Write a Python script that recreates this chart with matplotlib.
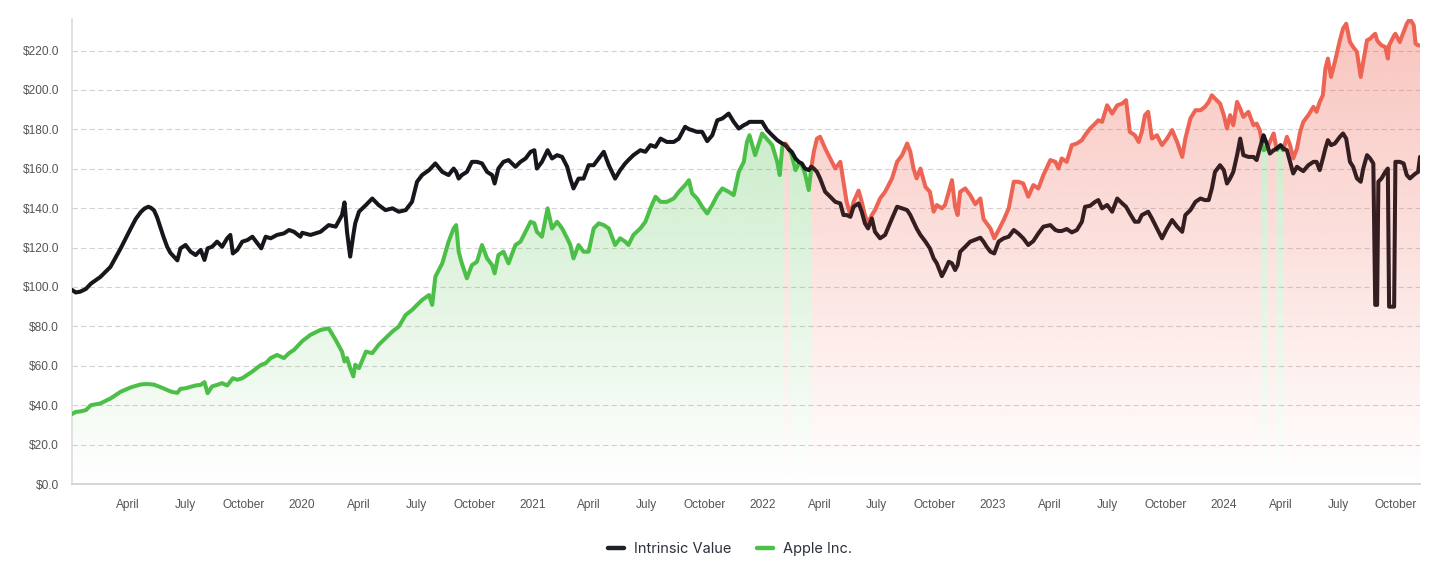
import numpy as np
import pandas as pd
import matplotlib
matplotlib.use('Agg')
import matplotlib.pyplot as plt
import matplotlib.dates as mdates
from matplotlib.path import Path
from matplotlib.patches import PathPatch
from matplotlib.lines import Line2D

# values (USD)
dates = [
    # 2019
    '2019-01-02', '2019-01-08', '2019-01-15', '2019-01-24', '2019-02-01', '2019-02-16', '2019-03-04', '2019-03-20',
    '2019-04-05', '2019-04-13', '2019-04-21', '2019-04-27', '2019-05-03', '2019-05-07', '2019-05-12', '2019-05-17',
    '2019-05-22', '2019-05-27', '2019-06-02', '2019-06-07', '2019-06-13', '2019-06-18', '2019-06-23', '2019-07-01',
    '2019-07-09', '2019-07-17', '2019-07-25', '2019-07-31', '2019-08-05', '2019-08-12', '2019-08-20', '2019-08-28',
    '2019-09-05', '2019-09-10', '2019-09-14', '2019-09-21', '2019-09-29', '2019-10-07', '2019-10-15', '2019-10-23',
    '2019-10-29', '2019-11-05', '2019-11-13', '2019-11-23', '2019-12-04', '2019-12-12', '2019-12-20', '2019-12-30',
    # 2020
    '2020-01-02', '2020-01-15', '2020-01-31', '2020-02-13', '2020-02-24', '2020-03-05', '2020-03-09', '2020-03-13',
    '2020-03-18', '2020-03-23', '2020-03-26', '2020-04-01', '2020-04-12', '2020-04-22', '2020-05-02', '2020-05-13',
    '2020-05-24', '2020-06-03', '2020-06-14', '2020-06-24', '2020-07-02', '2020-07-10', '2020-07-21', '2020-07-26',
    '2020-07-31', '2020-08-11', '2020-08-21', '2020-08-29', '2020-09-02', '2020-09-06', '2020-09-11', '2020-09-19',
    '2020-09-27', '2020-10-05', '2020-10-13', '2020-10-21', '2020-10-29', '2020-11-02', '2020-11-08', '2020-11-16',
    '2020-11-24', '2020-12-05', '2020-12-13', '2020-12-21', '2020-12-29',
    # 2021
    '2021-01-04', '2021-01-08', '2021-01-16', '2021-01-25', '2021-02-01', '2021-02-09', '2021-02-17', '2021-02-25',
    '2021-03-02', '2021-03-07', '2021-03-15', '2021-03-23', '2021-03-31', '2021-04-08', '2021-04-16', '2021-04-24',
    '2021-05-02', '2021-05-12', '2021-05-20', '2021-05-28', '2021-06-02', '2021-06-10', '2021-06-21', '2021-06-29',
    '2021-07-07', '2021-07-15', '2021-07-23', '2021-08-02', '2021-08-13', '2021-08-21', '2021-08-31', '2021-09-06',
    '2021-09-11', '2021-09-19', '2021-09-27', '2021-10-05', '2021-10-13', '2021-10-21', '2021-10-29', '2021-11-08',
    '2021-11-16', '2021-11-24', '2021-12-02', '2021-12-07', '2021-12-11', '2021-12-20', '2021-12-31',
    # 2022
    '2022-01-08', '2022-01-16', '2022-01-24', '2022-01-28', '2022-02-01', '2022-02-06', '2022-02-11', '2022-02-16',
    '2022-02-22', '2022-02-27', '2022-03-04', '2022-03-09', '2022-03-15', '2022-03-19', '2022-03-23', '2022-03-28',
    '2022-04-02', '2022-04-10', '2022-04-18', '2022-04-26', '2022-05-04', '2022-05-09', '2022-05-14', '2022-05-20',
    '2022-05-25', '2022-06-02', '2022-06-07', '2022-06-12', '2022-06-17', '2022-06-23', '2022-06-28', '2022-07-06',
    '2022-07-14', '2022-07-25', '2022-08-02', '2022-08-10', '2022-08-18', '2022-08-23', '2022-08-28', '2022-09-02',
    '2022-09-08', '2022-09-16', '2022-09-23', '2022-09-29', '2022-10-04', '2022-10-12', '2022-10-17', '2022-10-23',
    '2022-10-28', '2022-11-02', '2022-11-06', '2022-11-10', '2022-11-18', '2022-11-26', '2022-12-04', '2022-12-12',
    '2022-12-17', '2022-12-22', '2022-12-28',
    # 2023
    '2023-01-03', '2023-01-10', '2023-01-18', '2023-01-26', '2023-02-03', '2023-02-10', '2023-02-18', '2023-02-26',
    '2023-03-06', '2023-03-14', '2023-03-22', '2023-04-02', '2023-04-10', '2023-04-15', '2023-04-20', '2023-04-28',
    '2023-05-06', '2023-05-14', '2023-05-22', '2023-05-27', '2023-06-04', '2023-06-12', '2023-06-17', '2023-06-23',
    '2023-07-01', '2023-07-09', '2023-07-17', '2023-07-25', '2023-07-31', '2023-08-06', '2023-08-14', '2023-08-20',
    '2023-08-25', '2023-08-30', '2023-09-04', '2023-09-10', '2023-09-18', '2023-09-26', '2023-10-04', '2023-10-12',
    '2023-10-20', '2023-10-28', '2023-11-02', '2023-11-10', '2023-11-18', '2023-11-26', '2023-12-03', '2023-12-09',
    '2023-12-14', '2023-12-19', '2023-12-27',
    # 2024
    '2024-01-02', '2024-01-07', '2024-01-12', '2024-01-17', '2024-01-23', '2024-01-28', '2024-02-02', '2024-02-10',
    '2024-02-18', '2024-02-23', '2024-02-28', '2024-03-05', '2024-03-10', '2024-03-15', '2024-03-21', '2024-03-26',
    '2024-04-01', '2024-04-05', '2024-04-11', '2024-04-16', '2024-04-21', '2024-04-27', '2024-05-02', '2024-05-07',
    '2024-05-15', '2024-05-23', '2024-05-28', '2024-06-02', '2024-06-07', '2024-06-11', '2024-06-15', '2024-06-20',
    '2024-06-26', '2024-07-04', '2024-07-09', '2024-07-14', '2024-07-20', '2024-07-25', '2024-07-31', '2024-08-06',
    '2024-08-10', '2024-08-16', '2024-08-21', '2024-08-26', '2024-08-29', '2024-09-01', '2024-09-03', '2024-09-08',
    '2024-09-14', '2024-09-18', '2024-09-20', '2024-09-28', '2024-09-30', '2024-10-07', '2024-10-13', '2024-10-18',
    '2024-10-23', '2024-10-29', '2024-11-01', '2024-11-05', '2024-11-08',
]

intrinsic_value = [
    # 2019
    98.5, 97.2, 97.6, 99.0, 101.7, 105.1, 110.2, 119.5,
    129.6, 134.5, 138.0, 139.8, 140.7, 140.2, 138.9, 135.3,
    130.4, 125.5, 120.3, 117.3, 115.2, 113.5, 119.6, 121.3,
    117.9, 116.2, 118.8, 113.7, 119.6, 120.4, 123.0, 120.4,
    124.7, 126.4, 117.0, 118.8, 123.0, 123.8, 125.5, 122.1,
    119.6, 125.5, 124.7, 126.4, 127.2, 128.9, 128.0, 125.5,
    # 2020
    127.5, 126.4, 128.0, 131.4, 130.6, 136.5, 142.9, 128.0,
    115.4, 126.4, 132.3, 138.2, 141.6, 144.9, 141.6, 139.0,
    139.9, 138.2, 139.0, 143.2, 153.4, 156.8, 159.3, 161.0,
    162.7, 158.4, 156.8, 160.1, 158.4, 155.0, 156.8, 158.4,
    163.5, 163.5, 162.7, 158.4, 156.8, 152.5, 160.1, 163.5,
    164.4, 161.0, 163.5, 165.2, 168.6,
    # 2021
    169.4, 160.1, 163.5, 169.4, 165.2, 166.9, 166.0, 161.0,
    155.0, 150.0, 155.0, 155.0, 161.8, 161.8, 165.2, 168.6,
    161.8, 155.0, 159.3, 162.7, 164.4, 166.9, 169.4, 168.6,
    172.0, 171.1, 175.3, 173.6, 173.6, 175.3, 181.3, 180.1,
    179.6, 178.7, 178.7, 174.0, 177.0, 184.6, 185.5, 188.0,
    183.8, 180.4, 182.1, 182.9, 183.8, 183.8, 183.8,
    # 2022
    179.6, 177.0, 174.5, 173.6, 172.8, 172.0, 169.9, 168.6,
    165.2, 163.5, 162.7, 160.1, 159.3, 161.0, 160.1, 158.4,
    155.0, 148.3, 145.8, 143.2, 142.4, 136.5, 136.5, 135.6,
    140.7, 142.4, 138.2, 132.3, 129.7, 134.8, 128.0, 124.7,
    126.4, 134.8, 140.7, 139.9, 139.0, 136.5, 133.1, 129.7,
    126.4, 123.0, 119.6, 114.5, 112.0, 105.5, 108.6, 112.8,
    112.0, 108.6, 111.1, 117.9, 120.4, 123.0, 124.0, 125.0,
    123.0, 120.4, 117.9,
    # 2023
    117.0, 123.0, 124.7, 125.5, 128.9, 127.2, 124.7, 121.3,
    123.3, 127.2, 130.6, 131.4, 128.9, 128.4, 128.4, 129.4,
    127.7, 128.9, 133.1, 140.7, 141.2, 143.2, 144.1, 139.9,
    141.6, 138.2, 144.9, 142.4, 140.7, 137.3, 133.1, 133.1,
    136.5, 137.3, 138.2, 134.8, 129.7, 124.7, 129.7, 134.0,
    130.6, 128.0, 136.5, 139.0, 143.2, 144.9, 144.1, 144.1,
    150.0, 158.4, 161.8,
    # 2024
    159.3, 152.5, 155.1, 158.4, 166.9, 175.3, 166.9, 166.0,
    166.0, 164.4, 170.3, 177.0, 172.8, 167.7, 169.4, 170.3,
    172.0, 170.3, 169.4, 163.5, 157.6, 161.0, 159.8, 158.8,
    161.8, 163.5, 163.5, 159.3, 165.2, 170.3, 174.5, 172.0,
    172.8, 176.2, 177.9, 175.3, 163.5, 161.0, 155.1, 153.4,
    160.1, 166.9, 165.2, 162.7, 90.9, 90.9, 153.4, 155.1,
    158.4, 160.1, 90.0, 90.0, 163.5, 163.5, 162.7, 156.8,
    155.1, 156.8, 157.6, 158.4, 166.0,
]

apple_price = [
    # 2019
    35.5, 36.6, 36.8, 37.5, 40.0, 40.9, 43.4, 46.8,
    49.0, 49.8, 50.5, 50.7, 50.7, 50.6, 50.4, 49.8,
    49.2, 48.5, 47.6, 47.0, 46.5, 46.3, 48.3, 48.6,
    49.3, 50.0, 50.3, 51.7, 46.1, 49.5, 50.3, 51.2,
    50.0, 52.0, 53.7, 52.9, 53.7, 55.4, 57.1, 59.1,
    60.5, 61.3, 63.9, 65.5, 63.9, 66.4, 68.1, 71.5,
    # 2020
    72.5, 75.7, 78.2, 79.0, 73.1, 67.2, 62.2, 63.9,
    58.8, 54.6, 60.5, 58.8, 67.2, 66.4, 70.6, 74.0,
    77.4, 79.9, 85.8, 88.3, 90.9, 93.4, 95.9, 90.9,
    105.2, 112.0, 123.0, 129.7, 131.4, 117.9, 112.0, 104.4,
    111.1, 112.8, 121.3, 114.5, 111.1, 106.9, 116.2, 117.9,
    112.0, 121.3, 123.0, 128.0, 133.1,
    # 2021
    132.3, 128.0, 125.5, 139.9, 129.7, 133.1, 129.7, 124.7,
    121.3, 114.5, 121.3, 117.9, 117.9, 129.7, 132.3, 131.4,
    129.7, 121.3, 124.7, 123.0, 121.3, 126.4, 129.7, 133.1,
    139.9, 145.8, 143.2, 143.2, 144.9, 148.3, 151.7, 154.2,
    147.5, 144.9, 140.7, 137.3, 141.6, 146.6, 150.0, 148.3,
    146.6, 158.4, 163.5, 173.6, 177.0, 166.9, 177.9,
    # 2022
    175.0, 172.0, 163.5, 156.8, 171.1, 172.8, 170.6, 166.9,
    159.3, 162.5, 161.8, 157.6, 149.2, 160.5, 168.6, 175.3,
    176.2, 170.3, 165.2, 160.1, 163.5, 153.4, 143.2, 136.5,
    143.2, 148.9, 143.2, 136.5, 132.3, 136.5, 139.0, 144.9,
    148.3, 155.1, 163.5, 166.9, 172.8, 168.6, 160.1, 155.1,
    160.1, 150.8, 148.3, 138.2, 141.6, 139.9, 141.6, 148.3,
    154.2, 140.7, 136.5, 148.3, 150.0, 146.6, 142.0, 144.9,
    134.5, 132.3, 129.7,
    # 2023
    124.7, 128.9, 134.0, 139.9, 153.4, 153.4, 152.5, 145.8,
    151.7, 150.0, 156.8, 164.4, 163.5, 160.1, 165.2, 163.5,
    172.0, 172.8, 174.5, 177.0, 180.4, 182.9, 184.6, 183.8,
    192.2, 188.0, 192.2, 193.1, 194.8, 178.7, 177.0, 173.6,
    178.7, 187.2, 188.9, 175.3, 177.0, 172.0, 175.3, 179.6,
    173.6, 166.0, 175.3, 185.5, 189.7, 189.7, 191.4, 193.9,
    197.3, 195.6, 193.1,
    # 2024
    187.2, 180.4, 187.2, 182.1, 193.9, 190.5, 186.3, 188.9,
    182.1, 182.9, 179.6, 169.4, 170.3, 173.6, 177.9, 169.5,
    171.4, 169.4, 176.2, 172.0, 165.2, 170.3, 178.7, 183.8,
    187.2, 191.4, 188.9, 193.9, 197.3, 210.8, 215.9, 206.6,
    214.2, 225.2, 231.1, 233.6, 224.3, 221.8, 219.3, 206.6,
    214.2, 225.2, 226.0, 227.7, 228.5, 225.2, 224.3, 222.6,
    221.8, 215.9, 222.6, 227.7, 228.5, 224.3, 229.4, 233.6,
    236.1, 232.8, 223.5, 222.6, 222.6,
]

tick_dates = ['2019-04-01', '2019-07-01', '2019-10-01', '2020-01-01', '2020-04-01', '2020-07-01',
              '2020-10-01', '2021-01-01', '2021-04-01', '2021-07-01', '2021-10-01', '2022-01-01',
              '2022-04-01', '2022-07-01', '2022-10-01', '2023-01-01', '2023-04-01', '2023-07-01',
              '2023-10-01', '2024-01-01', '2024-04-01', '2024-07-01', '2024-10-01']
tick_labels = ['April', 'July', 'October', '2020', 'April', 'July',
               'October', '2021', 'April', 'July', 'October', '2022',
               'April', 'July', 'October', '2023', 'April', 'July',
               'October', '2024', 'April', 'July', 'October']

GREEN = '#4cbf48'
RED = '#ee6454'
IV_DARK = '#16161c'
IV_BROWN = '#351e21'
YMAX = 236

x = mdates.date2num(pd.to_datetime(dates))
iv = np.array(intrinsic_value, dtype=float)
px = np.array(apple_price, dtype=float)


def split_runs(xs, a, b):
    # cut the series where the price crosses the intrinsic value
    out = []
    cx, ca, cb = [xs[0]], [a[0]], [b[0]]
    above = a[0] > b[0]
    for i in range(1, len(xs)):
        now = a[i] > b[i]
        if now != above:
            d0 = a[i - 1] - b[i - 1]
            d1 = a[i] - b[i]
            t = d0 / (d0 - d1)
            xc = xs[i - 1] + t * (xs[i] - xs[i - 1])
            ac = a[i - 1] + t * (a[i] - a[i - 1])
            bc = b[i - 1] + t * (b[i] - b[i - 1])
            cx.append(xc); ca.append(ac); cb.append(bc)
            out.append((np.array(cx), np.array(ca), np.array(cb), above))
            cx, ca, cb = [xc], [ac], [bc]
            above = now
        cx.append(xs[i]); ca.append(a[i]); cb.append(b[i])
    out.append((np.array(cx), np.array(ca), np.array(cb), above))
    return out


fig = plt.figure(figsize=(14.44, 5.67), dpi=100)
ax = fig.add_axes([72 / 1444, 83 / 567, 1348 / 1444, 465 / 567])

runs = split_runs(x, px, iv)

# gradient fills below the price
for want_above, color in [(False, GREEN), (True, RED)]:
    paths = []
    for xs, a, b, above in runs:
        if above != want_above:
            continue
        verts = np.column_stack([np.r_[xs, xs[-1], xs[0]], np.r_[a, 0, 0]])
        paths.append(Path(verts))
    if not paths:
        continue
    patch = PathPatch(Path.make_compound_path(*paths), transform=ax.transData,
                      facecolor='none', edgecolor='none')
    ax.add_patch(patch)
    rgb = matplotlib.colors.to_rgb(color)
    grad = np.zeros((256, 1, 4))
    grad[..., 0], grad[..., 1], grad[..., 2] = rgb
    grad[..., 3] = np.linspace(0.38, 0.0, 256)[:, None]
    im = ax.imshow(grad, extent=[x[0], x[-1], 0, YMAX], aspect='auto', origin='upper',
                   interpolation='bilinear', zorder=1)
    im.set_clip_path(patch)

for xs, a, b, above in runs:
    ax.plot(xs, a, color=RED if above else GREEN, lw=2.9, solid_capstyle='round',
            solid_joinstyle='round', zorder=3)
    ax.plot(xs, b, color=IV_BROWN if above else IV_DARK, lw=2.9, solid_capstyle='round',
            solid_joinstyle='round', zorder=4)

ax.set_xlim(x[0], x[-1])
ax.set_ylim(0, YMAX)

ax.set_yticks(np.arange(0, 221, 20))
ax.set_yticklabels(['$%.1f' % v for v in np.arange(0, 221, 20)])
ax.set_xticks(mdates.date2num(pd.to_datetime(tick_dates)))
ax.set_xticklabels(tick_labels)

ax.yaxis.grid(True, color='#d2d2d2', linestyle=(0, (4.8, 2.9)), linewidth=0.8, zorder=0)
ax.set_axisbelow(True)
for s in ['top', 'right']:
    ax.spines[s].set_visible(False)
ax.spines['left'].set_color('#dcdcdc')
ax.spines['bottom'].set_color('#cfcfcf')
ax.spines['left'].set_linewidth(1.2)
ax.spines['bottom'].set_linewidth(1.2)

ax.tick_params(axis='both', length=0, labelsize=8.6, labelcolor='#555555')
ax.tick_params(axis='y', pad=9.5)
ax.tick_params(axis='x', pad=11)
for lab in ax.get_xticklabels() + ax.get_yticklabels():
    lab.set_fontfamily('Liberation Sans')

handles = [Line2D([], [], color='#1e2129', lw=3.2, solid_capstyle='round'),
           Line2D([], [], color=GREEN, lw=3.2, solid_capstyle='round')]
fig.legend(handles, ['Intrinsic Value', 'Apple Inc.'], loc='center', bbox_to_anchor=(0.5055, 0.032),
           ncol=2, frameon=False, handlelength=1.1, handletextpad=0.65, columnspacing=1.8,
           prop={'family': 'Inter', 'size': 10.5}, labelcolor='#2b303b')

fig.savefig('out.png', dpi=100)
